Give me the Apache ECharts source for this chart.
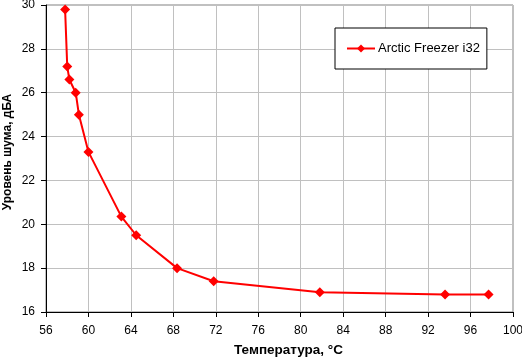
<!DOCTYPE html>
<html><head><meta charset="utf-8">
<script src="https://cdn.jsdelivr.net/npm/echarts@6/dist/echarts.min.js"></script>
<style>html,body{margin:0;padding:0;background:#fff}#c{width:522px;height:357px}</style>
</head><body><div id="c"></div>
<script>
const seriesName = "Arctic Freezer i32";
const temps = [57.8, 58.0, 58.2, 58.8, 59.1, 60.0, 63.1, 64.5, 68.35, 71.8, 81.8, 93.6, 97.7];
const noise = [29.8, 27.2, 26.6, 26.0, 25.0, 23.3, 20.35, 19.5, 18.0, 17.4, 16.9, 16.8, 16.8];
const xTitle = "Температура, °C";
const yTitle = "Уровень шума, дБА";

const chart = echarts.init(document.getElementById('c'), null, {renderer:'canvas'});
const font = 'Liberation Sans, Arial, sans-serif';
chart.setOption({
  animation:false,
  backgroundColor:'#fff',
  textStyle:{fontFamily:font},
  grid:{left:46, right:9, top:5, bottom:45, show:true, borderColor:'#808080', borderWidth:1, backgroundColor:'#fff', outerBoundsMode:'none', containLabel:false},
  graphic:[{
    type:'text', x:8, y:152, rotation:Math.PI/2,
    style:{text:yTitle, fontFamily:font, fontSize:12, fontWeight:'bold', fill:'#000', align:'center', verticalAlign:'middle'}
  }],
  legend:{
    show:true, left:335, top:28, orient:'vertical',
    padding:[14,7,14,11],
    borderColor:'#000', borderWidth:1, backgroundColor:'#fff',
    itemWidth:28, itemHeight:10, itemGap:0,
    textStyle:{fontFamily:font, fontSize:13, color:'#000', padding:[0,0,0,-2]}
  },
  xAxis:{
    type:'value', min:56, max:100, interval:4,
    name:xTitle, nameLocation:'middle', nameGap:31,
    nameTextStyle:{fontFamily:font, fontSize:13.5, fontWeight:'bold', color:'#000', padding:[0,0,0,18]},
    axisLine:{show:true, lineStyle:{color:'#000', width:1}},
    axisTick:{show:true, length:5, lineStyle:{color:'#000'}},
    axisLabel:{fontFamily:font, fontSize:12, color:'#000', margin:13},
    splitLine:{show:true, lineStyle:{color:'#c0c0c0', width:1}}
  },
  yAxis:{
    type:'value', min:16, max:30, interval:2,
    axisLine:{show:true, lineStyle:{color:'#000', width:1}},
    axisTick:{show:true, length:5, lineStyle:{color:'#000'}},
    axisLabel:{fontFamily:font, fontSize:12, color:'#000', margin:11},
    splitLine:{show:true, lineStyle:{color:'#c0c0c0', width:1}}
  },
  series:[{
    name:seriesName, type:'line',
    data: temps.map((t,i)=>[t, noise[i]]),
    symbol:'diamond', symbolSize:10,
    lineStyle:{color:'#ff0000', width:2},
    itemStyle:{color:'#ff0000'},
    showAllSymbol:true
  }]
});
</script></body></html>
